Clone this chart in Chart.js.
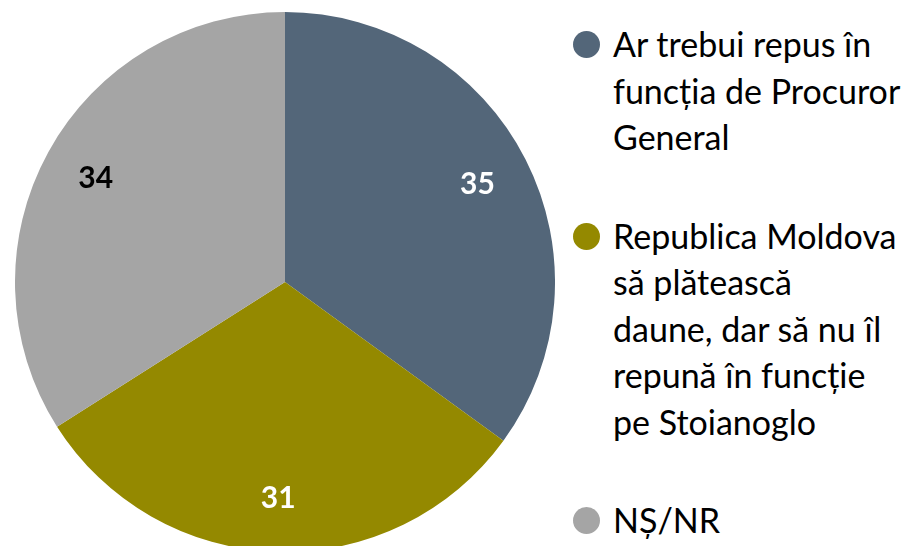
<!DOCTYPE html>
<html>
<head>
<meta charset="utf-8">
<script src="https://cdn.jsdelivr.net/npm/chart.js@4.4.0/dist/chart.umd.min.js"></script>
<style>
  html, body { margin: 0; padding: 0; background: #fff; }
  body { width: 910px; height: 546px; overflow: hidden; position: relative; font-family: Lato, "Open Sans", sans-serif; }
  #wrap { position: absolute; left: 15px; top: 12px; width: 540px; height: 540px; }
  #legend { position: absolute; left: 573px; top: 21px; }
  .item { display: flex; align-items: flex-start; margin-bottom: 52px; }
  .dot { width: 27px; height: 27px; border-radius: 50%; margin-top: 10px; margin-right: 13px; flex: none; }
  .txt { font-size: 34px; line-height: 46.5px; color: #000; white-space: nowrap; }
</style>
</head>
<body>
<div id="wrap"><canvas id="pie"></canvas></div>
<div id="legend"></div>
<script>
const categories = [
  ["Ar trebui repus în", "funcția de Procuror", "General"],
  ["Republica Moldova", "să plătească", "daune, dar să nu îl", "repună în funcție", "pe Stoianoglo"],
  ["NȘ/NR"]
];
const values = [35, 31, 34];
const colors = ['#536679', '#948900', '#A5A5A5'];
const labelColors = ['#ffffff', '#ffffff', '#000000'];

// value labels inside the slices, at 80% of the radius
const sliceLabels = {
  id: 'sliceLabels',
  afterDatasetsDraw(chart) {
    const ctx = chart.ctx;
    const meta = chart.getDatasetMeta(0);
    ctx.save();
    ctx.font = 'bold 30px Lato, "Open Sans", sans-serif';
    ctx.textAlign = 'center';
    ctx.textBaseline = 'middle';
    meta.data.forEach((arc, i) => {
      const mid = (arc.startAngle + arc.endAngle) / 2;
      const r = arc.outerRadius * 0.8;
      ctx.fillStyle = labelColors[i];
      ctx.fillText(values[i], arc.x + Math.cos(mid) * r, arc.y + Math.sin(mid) * r);
    });
    ctx.restore();
  }
};

const chart = new Chart(document.getElementById('pie'), {
  type: 'pie',
  data: {
    labels: categories,
    datasets: [{
      data: values,
      backgroundColor: colors,
      borderWidth: 0
    }]
  },
  options: {
    responsive: true,
    maintainAspectRatio: false,
    animation: false,
    layout: { padding: 0 },
    plugins: {
      legend: { display: false },
      tooltip: { enabled: false }
    }
  },
  plugins: [sliceLabels]
});

// html legend, built from the chart data
const legend = document.getElementById('legend');
chart.data.labels.forEach((lbl, i) => {
  legend.insertAdjacentHTML('beforeend',
    `<div class="item"><span class="dot" style="background:${colors[i]}"></span><span class="txt">${lbl.join('<br>')}</span></div>`);
});
</script>
</body>
</html>
